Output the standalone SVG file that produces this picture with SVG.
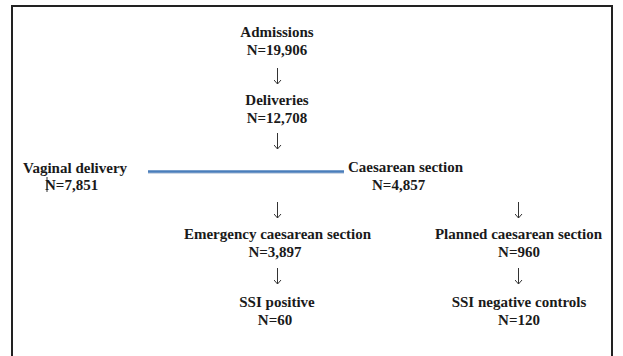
<svg xmlns="http://www.w3.org/2000/svg" width="623" height="356" viewBox="0 0 623 356">
<style>
  text { font-family: "Liberation Serif", "Times New Roman", serif; font-weight: bold; font-size: 15px; fill: #1a1a1a; }
  .c { text-anchor: middle; }
  .arr { stroke: #333; stroke-width: 1; fill: none; }
  .frame { stroke: #222; stroke-width: 2; fill: none; }
</style>
<defs>
  <marker id="ah" viewBox="0 0 6 8" refX="5.5" refY="4" markerWidth="6" markerHeight="8" markerUnits="userSpaceOnUse" orient="auto">
    <path d="M1.5,0.5 L5.5,4 L1.5,7.5" fill="none" stroke="#333" stroke-width="1"/>
  </marker>
</defs>
<rect width="623" height="356" fill="#fff"/>
<path class="frame" d="M12,358 V6 H612 V358"/>

<g id="connectors">
  <line class="arr" x1="277.5" y1="68" x2="277.5" y2="84" marker-end="url(#ah)"/>
  <line class="arr" x1="277.5" y1="133" x2="277.5" y2="149" marker-end="url(#ah)"/>
  <line x1="148" y1="173" x2="344" y2="173" stroke="#9fb3cc" stroke-width="2" opacity="0.5"/>
  <line x1="148" y1="171.5" x2="344" y2="171.5" stroke="#4a7ebb" stroke-width="2.5"/>
  <line x1="47" y1="177" x2="47" y2="192" stroke="#333" stroke-width="1"/>
  <line class="arr" x1="277.5" y1="202" x2="277.5" y2="218" marker-end="url(#ah)"/>
  <line class="arr" x1="518.5" y1="202" x2="518.5" y2="218" marker-end="url(#ah)"/>
  <line class="arr" x1="277.5" y1="268" x2="277.5" y2="284" marker-end="url(#ah)"/>
  <line class="arr" x1="518.5" y1="268" x2="518.5" y2="284" marker-end="url(#ah)"/>
</g>

<g id="admissions">
  <text class="c" x="277" y="37">Admissions</text>
  <text class="c" x="277" y="55">N=19,906</text>
</g>
<g id="deliveries">
  <text class="c" x="277" y="105">Deliveries</text>
  <text class="c" x="277" y="123">N=12,708</text>
</g>
<g id="vaginal">
  <text x="23" y="173">Vaginal delivery</text>
  <text x="45" y="190">N=7,851</text>
</g>
<g id="caesarean">
  <text x="348" y="172">Caesarean section</text>
  <text x="372" y="190">N=4,857</text>
</g>
<g id="emergency">
  <text class="c" x="277.5" y="239">Emergency caesarean section</text>
  <text class="c" x="275" y="257">N=3,897</text>
</g>
<g id="planned">
  <text class="c" x="518.5" y="239">Planned caesarean section</text>
  <text class="c" x="519" y="257">N=960</text>
</g>
<g id="ssi-positive">
  <text class="c" x="277" y="307">SSI positive</text>
  <text class="c" x="275" y="325">N=60</text>
</g>
<g id="ssi-negative">
  <text class="c" x="519" y="307">SSI negative controls</text>
  <text class="c" x="519" y="325">N=120</text>
</g>
</svg>
